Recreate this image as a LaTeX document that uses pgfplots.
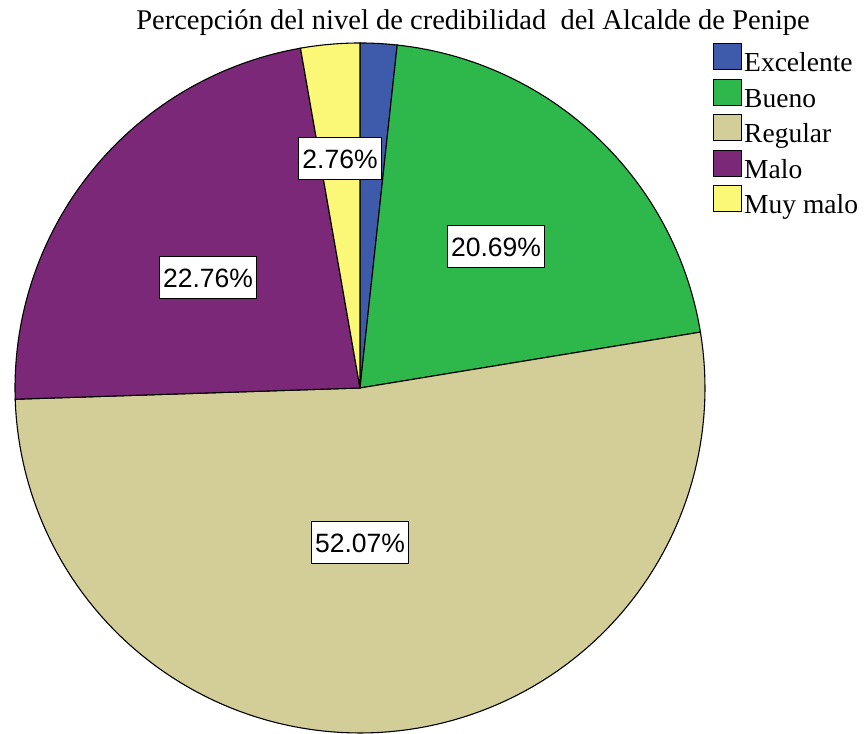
\documentclass[border=0pt]{standalone}
\usepackage{pgfplots}
\pgfplotsset{compat=1.18}
\usepackage{fontspec}
\setmainfont{Liberation Serif}
\newfontfamily\labelfont{Liberation Sans}
\definecolor{cExc}{HTML}{3D5AAB}
\definecolor{cBue}{HTML}{2EB84B}
\definecolor{cReg}{HTML}{D3CE97}
\definecolor{cMal}{HTML}{7B2878}
\definecolor{cMuy}{HTML}{FBF877}
\begin{document}
\begin{tikzpicture}
% percentages
\def\pExc{1.72}\def\pBue{20.69}\def\pReg{52.07}\def\pMal{22.76}\def\pMuy{2.76}
\pgfmathsetmacro\aA{90}
\pgfmathsetmacro\aB{\aA-3.6*\pExc}
\pgfmathsetmacro\aC{\aB-3.6*\pBue}
\pgfmathsetmacro\aD{\aC-3.6*\pReg}
\pgfmathsetmacro\aE{\aD-3.6*\pMal}
\pgfmathsetmacro\aF{\aE-3.6*\pMuy}
\begin{axis}[width=864pt,height=733pt,scale only axis,
  xmin=0,xmax=864,ymin=0,ymax=733,hide axis,clip=false,
  legend image code/.code={\draw[#1,line width=1pt] (0pt,-5pt) rectangle (28pt,21pt);},
  legend style={at={(axis cs:713,690)},anchor=north west,draw=none,fill=none,
    inner sep=0pt,font=\fontsize{27.5}{30}\selectfont,cells={anchor=west},
    nodes={text height=20pt,text depth=6pt,inner sep=2pt},row sep=-1pt},
  every axis plot/.append style={draw=black,line width=1.1pt,samples=60},
]
\addplot[fill=cExc,domain=\aB:\aA] ({360+345*cos(x)},{345+345*sin(x)}) -- (360,345) -- cycle;
\addlegendentry{Excelente}
\addplot[fill=cBue,domain=\aC:\aB] ({360+345*cos(x)},{345+345*sin(x)}) -- (360,345) -- cycle;
\addlegendentry{Bueno}
\addplot[fill=cReg,domain=\aD:\aC,samples=120] ({360+345*cos(x)},{345+345*sin(x)}) -- (360,345) -- cycle;
\addlegendentry{Regular}
\addplot[fill=cMal,domain=\aE:\aD] ({360+345*cos(x)},{345+345*sin(x)}) -- (360,345) -- cycle;
\addlegendentry{Malo}
\addplot[fill=cMuy,domain=\aF:\aE] ({360+345*cos(x)},{345+345*sin(x)}) -- (360,345) -- cycle;
\addlegendentry{Muy malo}
\tikzset{lab/.style={draw=black,fill=white,line width=1pt,font=\labelfont\fontsize{26.5}{30}\selectfont,inner xsep=4pt,minimum height=42pt}}
\node[lab] at (axis cs:340,574) {2.76\%};
\node[lab] at (axis cs:496,486) {20.69\%};
\node[lab] at (axis cs:208,455) {22.76\%};
\node[lab] at (axis cs:360,190) {52.07\%};
\node[font=\fontsize{28.5}{32}\selectfont,anchor=base] at (axis cs:473,703) {Percepción del nivel de credibilidad\ \ del Alcalde de Penipe};
\coordinate (ll) at (axis cs:0,0);
\coordinate (ur) at (axis cs:864,733);
\end{axis}
\pgfresetboundingbox
\useasboundingbox (ll) rectangle (ur);
\end{tikzpicture}
\end{document}
